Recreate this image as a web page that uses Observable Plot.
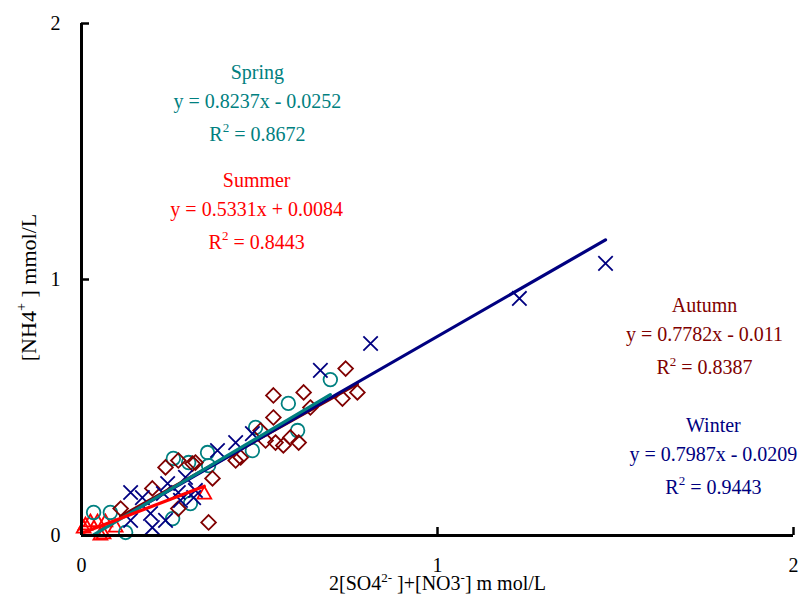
<!DOCTYPE html>
<html><head><meta charset="utf-8">
<script src="https://cdn.jsdelivr.net/npm/d3@7"></script>
<script src="https://cdn.jsdelivr.net/npm/@observablehq/plot@0.6"></script>
<style>
html,body{margin:0;padding:0;background:#fff;}
</style></head><body><div id="chart"></div>
<script>
// ---- series metadata ----
const seasons = ["Spring", "Summer", "Autumn", "Winter"];
const colors = ["#008080", "#ff0000", "#800000", "#000080"];
const symbols = ["circle", "triangle2", "diamond2", "times"];
const slopes = [0.8237, 0.5331, 0.7782, 0.7987];
const intercepts = [-0.0252, 0.0084, -0.011, -0.0209];
const equations = ["y = 0.8237x - 0.0252", "y = 0.5331x + 0.0084", "y = 0.7782x - 0.011", "y = 0.7987x - 0.0209"];
const r2Values = ["0.8672", "0.8443", "0.8387", "0.9443"];
const labelX = [0.494, 0.492, 1.75, 1.775];
const labelY = [1.809, 1.387, 0.898, 0.430];

// ---- observations ----
const springX = [0.699, 0.581, 0.607, 0.489, 0.480, 0.354, 0.357, 0.258, 0.301, 0.306, 0.256, 0.034, 0.081, 0.124];
const springY = [0.609, 0.516, 0.410, 0.422, 0.332, 0.324, 0.273, 0.301, 0.285, 0.125, 0.066, 0.090, 0.090, 0.012];
const summerX = [0.006, 0.025, 0.045, 0.062, 0.067, 0.096, 0.053, 0.011, 0.345];
const summerY = [0.027, 0.051, 0.051, 0.004, 0.051, 0.031, 0.000, 0.039, 0.160];
const autumnX = [0.742, 0.775, 0.733, 0.624, 0.643, 0.539, 0.539, 0.587, 0.610, 0.567, 0.545, 0.517, 0.503, 0.447, 0.433, 0.368, 0.357, 0.312, 0.272, 0.236, 0.199, 0.272, 0.110, 0.320];
const autumnY = [0.652, 0.559, 0.535, 0.559, 0.500, 0.547, 0.461, 0.383, 0.363, 0.352, 0.363, 0.371, 0.410, 0.305, 0.293, 0.223, 0.051, 0.281, 0.293, 0.266, 0.184, 0.105, 0.105, 0.285];
const winterX = [1.472, 1.230, 0.812, 0.671, 0.480, 0.433, 0.382, 0.315, 0.320, 0.272, 0.292, 0.278, 0.242, 0.230, 0.236, 0.199, 0.194, 0.171, 0.138, 0.138];
const winterY = [1.063, 0.926, 0.750, 0.645, 0.398, 0.363, 0.332, 0.148, 0.176, 0.168, 0.227, 0.137, 0.203, 0.164, 0.059, 0.031, 0.086, 0.148, 0.168, 0.059];

const xTicks = [0, 1, 2];
const yTicks = [0, 1, 2];
const xLabel = "2[SO4^{2-} ]+[NO3^{-}] m mol/L";
const yLabel = "[NH4^{+} ] mmol/L";

// ---- build tables ----
const seriesX = [springX, summerX, autumnX, winterX];
const seriesY = [springY, summerY, autumnY, winterY];
const points = [];
seriesX.forEach((xs, s) => xs.forEach((x, i) => points.push({season: seasons[s], x, y: seriesY[s][i]})));

const fitLines = [];
seasons.forEach((name, s) => {
  const [x0, x1] = d3.extent(seriesX[s]);
  fitLines.push({season: name, x: x0, y: slopes[s] * x0 + intercepts[s]});
  fitLines.push({season: name, x: x1, y: slopes[s] * x1 + intercepts[s]});
});

const labels = seasons.map((name, s) => ({season: name, x: labelX[s], y: labelY[s], eq: equations[s], r2: "R^{2} = " + r2Values[s]}));

const serif = "'Liberation Serif', 'Times New Roman', serif";
const markerOrder = ["Summer", "Spring", "Autumn", "Winter"];
const lineOrder = ["Autumn", "Winter", "Spring", "Summer"];
const col = (n) => colors[seasons.indexOf(n)];
const markerR = {Spring: 6.8, Summer: 6.6, Autumn: 6.6, Winter: 6.6};

const marks = [];
for (const n of markerOrder) {
  const s = seasons.indexOf(n);
  marks.push(Plot.dot(points.filter(d => d.season === n), {x: "x", y: "y", symbol: () => symbols[s], r: markerR[n], stroke: colors[s], fill: "none", strokeWidth: 1.8}));
}
for (const n of lineOrder) {
  marks.push(Plot.line(fitLines.filter(d => d.season === n), {x: "x", y: "y", stroke: col(n), strokeWidth: 3.2}));
}
marks.push(
  Plot.ruleX([0], {stroke: "black", strokeWidth: 3}),
  Plot.ruleY([0], {stroke: "black", strokeWidth: 3}),
  Plot.axisY(yTicks, {tickSize: -8, strokeWidth: 2.5, tickFormat: () => "", label: null}),
  Plot.axisX(xTicks, {tickSize: -8, strokeWidth: 2.5, tickFormat: () => "", label: null}),
  Plot.axisY(yTicks, {tickSize: 0, tickPadding: 21, fontSize: 20, fontFamily: serif, fill: "black", label: null, tickFormat: d => String(d)}),
  Plot.axisX(xTicks, {tickSize: 0, tickPadding: 22, fontSize: 20, fontFamily: serif, fill: "black", label: null, tickFormat: d => String(d)}),
  Plot.text(labels, {x: "x", y: "y", text: "season", fill: d => col(d.season), fontSize: 20, fontFamily: serif}),
  Plot.text(labels, {x: "x", y: "y", text: "eq", dy: 29, fill: d => col(d.season), fontSize: 20, fontFamily: serif}),
  Plot.text(labels, {x: "x", y: "y", text: "r2", dy: 62, fill: d => col(d.season), fontSize: 20, fontFamily: serif}),
  Plot.text([xLabel], {frameAnchor: "bottom", textAnchor: "middle", lineAnchor: "middle", dy: 48, fontSize: 20, fontFamily: serif, fill: "black"}),
  Plot.text([yLabel], {frameAnchor: "left", textAnchor: "middle", lineAnchor: "middle", dx: -53, dy: 8, rotate: -90, fontSize: 22, fontFamily: serif, fill: "black"})
);

const chart = Plot.plot({
  width: 801,
  height: 596,
  marginLeft: 81,
  marginRight: 8,
  marginTop: 23,
  marginBottom: 61,
  x: {domain: [0, 2], axis: null},
  y: {domain: [0, 2], axis: null},
  style: {background: "#fff", fontFamily: serif, overflow: "visible"},
  marks
});
document.getElementById("chart").appendChild(chart);

// render ^{...} as superscript tspans
chart.querySelectorAll("text").forEach(t => {
  const s = t.textContent;
  if (!s.includes("^{")) return;
  const fs = parseFloat(getComputedStyle(t).fontSize) || 20;
  while (t.firstChild) t.removeChild(t.firstChild);
  let raised = false;
  for (const p of s.split(/(\^\{[^}]*\})/)) {
    if (!p) continue;
    const ts = document.createElementNS("http://www.w3.org/2000/svg", "tspan");
    if (p.startsWith("^{")) {
      ts.textContent = p.slice(2, -1);
      ts.setAttribute("font-size", (fs * 0.65).toFixed(1));
      ts.setAttribute("dy", (-fs * 0.42).toFixed(1));
      raised = true;
    } else {
      ts.textContent = p;
      if (raised) { ts.setAttribute("dy", (fs * 0.42).toFixed(1)); raised = false; }
    }
    t.appendChild(ts);
  }
});
</script></body></html>
